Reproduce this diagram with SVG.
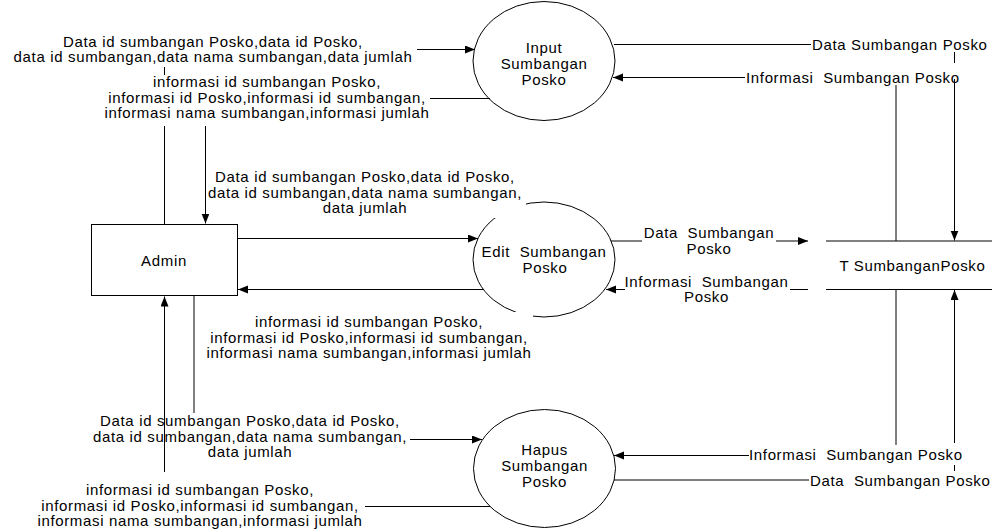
<svg xmlns="http://www.w3.org/2000/svg" width="992" height="530" viewBox="0 0 992 530">
<defs>
<marker id="arr" markerUnits="userSpaceOnUse" markerWidth="11" markerHeight="9" refX="10" refY="4" orient="auto">
<path d="M0,0 L10,4 L0,8 z" fill="#000"/>
</marker>
<style>
text{font-family:"Liberation Sans",Arial,sans-serif;font-size:15px;letter-spacing:0.65px;fill:#000;white-space:pre}
.m{text-anchor:middle}
.shape{fill:#fff;stroke:#000;stroke-width:1}
.c{fill:none;stroke:#000;stroke-width:1;marker-end:url(#arr)}
.bg{fill:#fff;stroke:none}
.ds{stroke:#000;stroke-width:1}
</style>
</defs>
<rect width="992" height="530" fill="#fff"/>

<g id="admin">
<rect class="shape" x="91.5" y="224.5" width="146" height="71"/>
<text class="m" x="164" y="265.5">Admin</text>
</g>

<g id="input-sumbangan-posko">
<ellipse class="shape" cx="544" cy="61" rx="71" ry="59.5"/>
<text class="m" x="544" y="53">Input</text>
<text class="m" x="544" y="69">Sumbangan</text>
<text class="m" x="544" y="85">Posko</text>
</g>

<g id="edit-sumbangan-posko">
<ellipse class="shape" cx="544" cy="259.5" rx="71" ry="57.5"/>
<text class="m" x="544" y="256.5">Edit  Sumbangan</text>
<text class="m" x="545" y="272.5">Posko</text>
</g>

<g id="hapus-sumbangan-posko">
<ellipse class="shape" cx="544.5" cy="468.5" rx="71" ry="59"/>
<text class="m" x="544.5" y="455">Hapus</text>
<text class="m" x="544.5" y="471">Sumbangan</text>
<text class="m" x="544.5" y="487">Posko</text>
</g>

<g id="t-sumbanganposko">
<line class="ds" x1="826" y1="241" x2="992" y2="241"/>
<line class="ds" x1="826" y1="289.5" x2="992" y2="289.5"/>
<text class="m" x="912.5" y="271">T SumbanganPosko</text>
</g>

<g id="connectors">
<path class="c" d="M164.5,224 V126 M164.5,75 V67 M417,49.5 H475"/>
<path class="c" d="M490,98.5 H430 M205.5,126 V223.5"/>
<path class="c" d="M237.5,238.5 H478"/>
<path class="c" d="M484,289.5 H238"/>
<path class="c" d="M194,296 V413 M410,439.5 H482"/>
<path class="c" d="M490,506.5 H365 M164.5,472 V296.5"/>
<path class="c" d="M614,44.5 H811 M954.5,52 V63 M954.5,79 V240.5"/>
<path class="c" d="M896,241 V85 M745,77.5 H613"/>
<path class="c" d="M611,241 H642 M776,241 H808"/>
<path class="c" d="M808,289.5 H790 M625,289.5 H606"/>
<path class="c" d="M896,289.5 V445 M749,455.5 H614"/>
<path class="c" d="M614,480 H809 M954.5,471 V465 M954.5,443 V290"/>
</g>

<g id="labels">
<text class="m" x="213" y="46.5">Data id sumbangan Posko,data id Posko,</text>
<text class="m" x="213" y="62">data id sumbangan,data nama sumbangan,data jumlah</text>

<text class="m" x="267" y="87">informasi id sumbangan Posko,</text>
<text class="m" x="267" y="102.5">informasi id Posko,informasi id sumbangan,</text>
<text class="m" x="267" y="118">informasi nama sumbangan,informasi jumlah</text>

<rect class="bg" x="209" y="166" width="317" height="52"/>
<text class="m" x="365" y="182">Data id sumbangan Posko,data id Posko,</text>
<text class="m" x="365" y="197.5">data id sumbangan,data nama sumbangan,</text>
<text class="m" x="365" y="213">data jumlah</text>

<rect class="bg" x="200" y="312" width="333" height="50"/>
<text class="m" x="369" y="327">informasi id sumbangan Posko,</text>
<text class="m" x="369" y="342.5">informasi id Posko,informasi id sumbangan,</text>
<text class="m" x="369" y="358">informasi nama sumbangan,informasi jumlah</text>

<text class="m" x="250" y="426">Data id sumbangan Posko,data id Posko,</text>
<text class="m" x="250" y="441.5">data id sumbangan,data nama sumbangan,</text>
<text class="m" x="250" y="457">data jumlah</text>

<text class="m" x="200" y="495">informasi id sumbangan Posko,</text>
<text class="m" x="200" y="510.5">informasi id Posko,informasi id sumbangan,</text>
<text class="m" x="200" y="526">informasi nama sumbangan,informasi jumlah</text>

<text x="812" y="50">Data Sumbangan Posko</text>
<text x="746" y="83">Informasi  Sumbangan Posko</text>

<text class="m" x="709" y="238">Data  Sumbangan</text>
<text class="m" x="709" y="253.5">Posko</text>
<text class="m" x="706.5" y="286.5">Informasi  Sumbangan</text>
<text class="m" x="706.5" y="302">Posko</text>

<text x="749" y="460">Informasi  Sumbangan Posko</text>
<text x="810" y="485.5">Data  Sumbangan Posko</text>
</g>
</svg>
